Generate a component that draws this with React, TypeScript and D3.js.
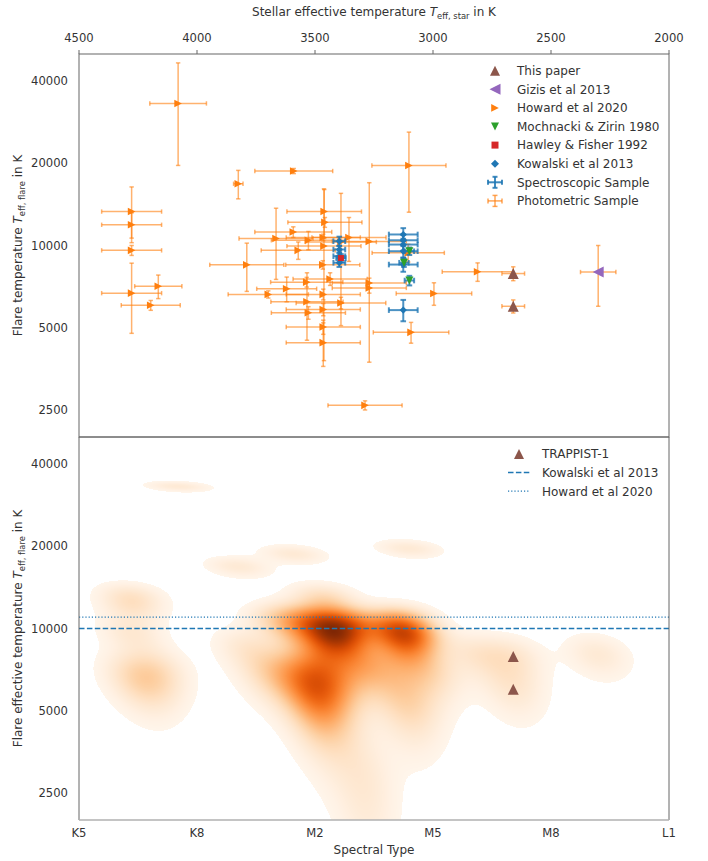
import React, { useMemo } from 'react';
import * as d3 from 'd3';

// ---- Photometric sample: Howard et al. 2020 (stellar Teff, flare T, 1-sigma errors, K)
const howardTeff = [4080, 3590, 3825, 4277, 4277, 4277, 4277, 4164, 4196, 3789, 3467, 3461, 3458, 3592, 3665, 3528, 3465, 3356, 3270, 3390, 3462, 3571, 3105, 3535, 3436, 3620, 3698, 3465, 3270, 3270, 3390, 3534, 3528, 3465, 3465, 3465, 3288, 3102, 2996, 3093, 2811];
const howardTeffErr = [120, 165, 20, 127, 127, 127, 127, 100, 125, 157, 157, 158, 157, 163, 157, 157, 157, 157, 157, 150, 157, 157, 153, 153, 157, 127, 170, 157, 157, 157, 190, 153, 157, 157, 157, 157, 157, 157, 160, 160, 150];
const howardTflare = [33000, 18700, 16800, 13300, 11900, 9600, 6700, 7100, 6050, 8500, 8500, 13300, 12150, 11200, 10600, 10450, 10700, 10700, 10350, 10300, 9950, 9600, 9400, 7350, 7550, 6950, 6630, 6630, 7300, 7000, 6170, 6230, 5680, 5840, 5040, 4420, 2610, 19580, 6680, 4820, 8020];
const howardTflareErr = [13400, 400, 2000, 3060, 1260, 400, 1920, 700, 250, 1700, 300, 2700, 500, 500, 3080, 800, 300, 1950, 6600, 5200, 6150, 700, 700, 300, 400, 720, 200, 300, 300, 300, 300, 1720, 300, 300, 300, 800, 100, 6350, 630, 420, 620];

// ---- Gizis et al 2013 (photometric)
const gizisTeff = [2300];
const gizisTeffErr = [75];
const gizisTflare = [8000];
const gizisTflareErr = [2000];

// ---- This paper: TRAPPIST-1 flares (photometric)
const thisTeff = [2660, 2660];
const thisTeffErr = [48, 48];
const thisTflare = [7900, 6000];
const thisTflareErr = [460, 330];

// ---- Spectroscopic sample: Kowalski et al 2013
const kowTeff = [3126, 3126, 3126, 3126, 3126, 3126, 3397, 3397, 3397, 3397];
const kowTeffErr = [61, 61, 61, 61, 61, 61, 25, 25, 25, 25];
const kowTflare = [10970, 10450, 10080, 9530, 8520, 5810, 10370, 9670, 9140, 8650];
const kowTflareErr = [600, 500, 500, 500, 500, 520, 400, 300, 300, 300];

// ---- Hawley & Fisher 1992
const hawleyTeff = [3390];
const hawleyTeffErr = [20];
const hawleyTflare = [9000];
const hawleyTflareErr = [300];

// ---- Mochnacki & Zirin 1980
const mochTeff = [3100, 3123, 3100];
const mochTeffErr = [20, 20, 20];
const mochTflare = [9530, 8650, 7450];
const mochTflareErr = [300, 300, 300];

// ---- axes
const starTicks = [4500, 4000, 3500, 3000, 2500, 2000];
const flareTicks = [2500, 5000, 10000, 20000, 40000];
const spectralTypes = ['K5', 'K8', 'M2', 'M5', 'M8', 'L1'];
const kowalskiMean = 10000;
const howardMean = 11000;

// KDE settings
const bwAdjust = 0.46;
const kdeThresh = 0.048;

const C = {
  blue: '#1f77b4', orange: '#ff7f0e', green: '#2ca02c', red: '#d62728', purple: '#9467bd', brown: '#8c564b',
};
const FONT = "'DejaVu Sans', sans-serif";
const TXT = '#333333';
const SPINE = '#666666';

type Pt = { teff: number; teffErr: number; t: number; tErr: number };
const zip = (a: number[], ae: number[], b: number[], be: number[]): Pt[] =>
  a.map((v, i) => ({ teff: v, teffErr: ae[i], t: b[i], tErr: be[i] }));

const howard = zip(howardTeff, howardTeffErr, howardTflare, howardTflareErr);
const gizis = zip(gizisTeff, gizisTeffErr, gizisTflare, gizisTflareErr);
const thisPaper = zip(thisTeff, thisTeffErr, thisTflare, thisTflareErr);
const kowalski = zip(kowTeff, kowTeffErr, kowTflare, kowTflareErr);
const hawley = zip(hawleyTeff, hawleyTeffErr, hawleyTflare, hawleyTflareErr);
const mochnacki = zip(mochTeff, mochTeffErr, mochTflare, mochTflareErr);
const photometric = [...howard, ...gizis, ...thisPaper];
const spectroscopic = [...kowalski, ...hawley, ...mochnacki];
const allFlares = [...photometric, ...spectroscopic];

// marker shapes centred on (0,0)
const triRight = (s: number) => `M${-s},${-s}L${s},0L${-s},${s}Z`;
const triLeft = (s: number) => `M${s},${-s}L${-s},0L${s},${s}Z`;
const triUp = (s: number) => `M0,${-s}L${s},${s}L${-s},${s}Z`;
const triDown = (s: number) => `M${-s},${-s}L${s},${-s}L0,${s}Z`;
const square = (s: number) => `M${-s},${-s}H${s}V${s}H${-s}Z`;
const diamond = (s: number) => `M0,${-s}L${s},0L0,${s}L${-s},0Z`;

// Gaussian KDE (Scott bandwidth, full covariance) rendered to a bitmap,
// coloured between the lowest iso-proportion level and the peak density.
function kdeBitmap(pts: Pt[], x: d3.ScaleLinear<number, number>, y: d3.ScaleLogarithmic<number, number>,
  x0: number, y0: number, w: number, h: number): string {
  const n = pts.length;
  const us = pts.map(p => p.teff), vs = pts.map(p => p.t);
  const mu = d3.mean(us) as number, mv = d3.mean(vs) as number;
  let suu = 0, svv = 0, suv = 0;
  for (let i = 0; i < n; i++) {
    suu += (us[i] - mu) ** 2; svv += (vs[i] - mv) ** 2; suv += (us[i] - mu) * (vs[i] - mv);
  }
  suu /= n - 1; svv /= n - 1; suv /= n - 1;
  const f = Math.pow(n, -1 / 3) * bwAdjust * bwAdjust;
  const kuu = suu * f, kvv = svv * f, kuv = suv * f;
  const det = kuu * kvv - kuv * kuv;
  const ia = kvv / det, ib = -kuv / det, ic = kuu / det;
  const dens = (u: number, v: number) => {
    let s = 0;
    for (let i = 0; i < n; i++) {
      const du = u - us[i], dv = v - vs[i];
      s += Math.exp(-0.5 * (ia * du * du + 2 * ib * du * dv + ic * dv * dv));
    }
    return s;
  };
  const su = Math.sqrt(kuu), sv = Math.sqrt(kvv);
  const G = 200;
  const uMin = (d3.min(us) as number) - 3 * su, uMax = (d3.max(us) as number) + 3 * su;
  const vMin = (d3.min(vs) as number) - 3 * sv, vMax = (d3.max(vs) as number) + 3 * sv;
  const vals = new Float64Array(G * G);
  for (let i = 0; i < G; i++) {
    const u = uMin + (uMax - uMin) * i / (G - 1);
    for (let j = 0; j < G; j++) {
      const v = vMin + (vMax - vMin) * j / (G - 1);
      vals[i * G + j] = dens(u, v);
    }
  }
  const sorted = Array.from(vals).sort((a, b) => b - a);
  const total = sorted.reduce((a, b) => a + b, 0);
  let cum = 0, d0 = sorted[sorted.length - 1];
  for (let k = 0; k < sorted.length; k++) {
    cum += sorted[k];
    if (cum / total >= 1 - kdeThresh) { d0 = sorted[k]; break; }
  }
  const dmax = sorted[0];
  const lut = d3.range(256).map(k => d3.rgb(d3.interpolateOranges(k / 255)));
  const canvas = document.createElement('canvas');
  canvas.width = w; canvas.height = h;
  const ctx = canvas.getContext('2d') as CanvasRenderingContext2D;
  const img = ctx.createImageData(w, h);
  for (let py = 0; py < h; py++) {
    const v = y.invert(y0 + py + 0.5);
    for (let px = 0; px < w; px++) {
      const u = x.invert(x0 + px + 0.5);
      const d = dens(u, v);
      if (d < d0) continue;
      const t = Math.min(1, (d - d0) / (dmax - d0));
      const c = lut[Math.round(t * 255)];
      const o = (py * w + px) * 4;
      img.data[o] = c.r; img.data[o + 1] = c.g; img.data[o + 2] = c.b; img.data[o + 3] = 255;
    }
  }
  ctx.putImageData(img, 0, 0);
  return canvas.toDataURL();
}

function ErrorBars({ pts, x, y, color, opacity, width, cap }: {
  pts: Pt[]; x: (v: number) => number; y: (v: number) => number; color: string; opacity: number; width: number; cap: number;
}) {
  return (
    <g stroke={color} strokeOpacity={opacity} strokeWidth={width} fill="none">
      {pts.map((p, i) => {
        const cx = x(p.teff), cy = y(p.t);
        const xa = x(p.teff + p.teffErr), xb = x(p.teff - p.teffErr);
        const ya = y(p.t + p.tErr), yb = y(Math.max(p.t - p.tErr, 1));
        return (
          <g key={i}>
            <line x1={xa} x2={xb} y1={cy} y2={cy} />
            <line x1={cx} x2={cx} y1={ya} y2={yb} />
            <line x1={xa} x2={xa} y1={cy - cap} y2={cy + cap} />
            <line x1={xb} x2={xb} y1={cy - cap} y2={cy + cap} />
            <line x1={cx - cap} x2={cx + cap} y1={ya} y2={ya} />
            <line x1={cx - cap} x2={cx + cap} y1={yb} y2={yb} />
          </g>
        );
      })}
    </g>
  );
}

function Markers({ pts, x, y, shape, color }: {
  pts: Pt[]; x: (v: number) => number; y: (v: number) => number; shape: string; color: string;
}) {
  return (
    <g fill={color}>
      {pts.map((p, i) => <path key={i} d={shape} transform={`translate(${x(p.teff)},${y(p.t)})`} />)}
    </g>
  );
}

function FlareLabel({ x, y, main }: { x: number; y: number; main: string }) {
  return (
    <text transform={`translate(${x},${y}) rotate(-90)`} textAnchor="middle" fontSize={12} fill={TXT} fontFamily={FONT}>
      {main}<tspan fontStyle="italic">T</tspan><tspan fontSize={8.4} dy={3}>eff, flare</tspan><tspan dy={-3}> in K</tspan>
    </text>
  );
}

export default function App() {
  const L = 79, R = 669, T0 = 54, MID = 437, B = 820;
  const x = d3.scaleLinear().domain([4500, 2000]).range([L, R]);
  const yTop = d3.scaleLog().domain([2000, 50000]).range([MID, T0]);
  const yBot = d3.scaleLog().domain([2000, 50000]).range([B, MID]);
  const spec = d3.scalePoint<string>().domain(spectralTypes).range([L, R]);

  const kde = useMemo(() => kdeBitmap(allFlares, x, yBot, L, MID, R - L, B - MID), []);

  const legendTop = [
    { label: 'This paper', kind: 'm', d: triUp(5), color: C.brown },
    { label: 'Gizis et al 2013', kind: 'm', d: triLeft(5.5), color: C.purple },
    { label: 'Howard et al 2020', kind: 'm', d: triRight(3.8), color: C.orange },
    { label: 'Mochnacki & Zirin 1980', kind: 'm', d: triDown(4), color: C.green },
    { label: 'Hawley & Fisher 1992', kind: 'm', d: square(3.5), color: C.red },
    { label: 'Kowalski et al 2013', kind: 'm', d: diamond(4), color: C.blue },
    { label: 'Spectroscopic Sample', kind: 'e', color: C.blue },
    { label: 'Photometric Sample', kind: 'e', color: C.orange },
  ];

  return (
    <svg width={708} height={861} style={{ display: 'block', position: 'absolute', left: 0, top: 0 }} fontFamily={FONT}>
      <rect width={708} height={861} fill="#ffffff" />
      <defs>
        <clipPath id="topClip"><rect x={L} y={T0} width={R - L} height={MID - T0} /></clipPath>
        <clipPath id="botClip"><rect x={L} y={MID} width={R - L} height={B - MID} /></clipPath>
      </defs>

      {/* top title + top axis */}
      <text x={(L + R) / 2} y={16} textAnchor="middle" fontSize={12} fill={TXT}>
        Stellar effective temperature <tspan fontStyle="italic">T</tspan><tspan fontSize={8.4} dy={3}>eff, star</tspan><tspan dy={-3}> in K</tspan>
      </text>
      {starTicks.map(t => (
        <g key={t}>
          <line x1={x(t)} x2={x(t)} y1={T0 - 4} y2={T0} stroke={SPINE} />
          <text x={x(t)} y={42} textAnchor="middle" fontSize={11.6} fill={TXT}>{t}</text>
        </g>
      ))}

      {/* ---------- top panel: literature flare temperatures ---------- */}
      <g clipPath="url(#topClip)">
        <ErrorBars pts={photometric} x={x} y={yTop} color={C.orange} opacity={0.6} width={1.5} cap={2.2} />
        <Markers pts={howard} x={x} y={yTop} shape={triRight(3.8)} color={C.orange} />
        <Markers pts={gizis} x={x} y={yTop} shape={triLeft(5.5)} color={C.purple} />
        <Markers pts={thisPaper} x={x} y={yTop} shape={triUp(5.5)} color={C.brown} />
        <ErrorBars pts={spectroscopic} x={x} y={yTop} color={C.blue} opacity={0.8} width={2} cap={2.8} />
        <Markers pts={kowalski} x={x} y={yTop} shape={diamond(3.6)} color={C.blue} />
        <Markers pts={hawley} x={x} y={yTop} shape={square(3)} color={C.red} />
        <Markers pts={mochnacki} x={x} y={yTop} shape={triDown(4)} color={C.green} />
      </g>
      {flareTicks.map(t => (
        <text key={t} x={68} y={yTop(t) + 4} textAnchor="end" fontSize={11.6} fill={TXT}>{t}</text>
      ))}
      <FlareLabel x={22} y={(T0 + MID) / 2} main="Flare temperature " />
      {legendTop.map((e, i) => {
        const cy = 70.7 + i * 18.6, cx = 495;
        return (
          <g key={e.label}>
            {e.kind === 'm' ? (
              <path d={e.d} transform={`translate(${cx},${cy})`} fill={e.color} />
            ) : (
              <g stroke={e.color} strokeWidth={e.color === C.blue ? 2 : 1.5} strokeOpacity={e.color === C.blue ? 0.85 : 0.7}>
                <line x1={cx - 7} x2={cx + 7} y1={cy} y2={cy} />
                <line x1={cx} x2={cx} y1={cy - 5.5} y2={cy + 5.5} />
                <line x1={cx - 7} x2={cx - 7} y1={cy - 2.5} y2={cy + 2.5} />
                <line x1={cx + 7} x2={cx + 7} y1={cy - 2.5} y2={cy + 2.5} />
                <line x1={cx - 2.5} x2={cx + 2.5} y1={cy - 5.5} y2={cy - 5.5} />
                <line x1={cx - 2.5} x2={cx + 2.5} y1={cy + 5.5} y2={cy + 5.5} />
              </g>
            )}
            <text x={517} y={cy + 4.3} fontSize={12} fill={TXT}>{e.label}</text>
          </g>
        );
      })}
      <rect x={L} y={T0} width={R - L} height={MID - T0} fill="none" stroke={SPINE} strokeWidth={1} />

      {/* ---------- bottom panel: density of flare temperatures ---------- */}
      <g clipPath="url(#botClip)">
        <image href={kde} x={L} y={MID} width={R - L} height={B - MID} preserveAspectRatio="none" />
        <line x1={L} x2={R} y1={yBot(kowalskiMean)} y2={yBot(kowalskiMean)} stroke={C.blue} strokeWidth={1.5} strokeDasharray="5.5,2.4" />
        <line x1={L} x2={R} y1={yBot(howardMean)} y2={yBot(howardMean)} stroke={C.blue} strokeWidth={1.2} strokeDasharray="1.2,2" />
        <Markers pts={thisPaper} x={x} y={yBot} shape={triUp(5.5)} color={C.brown} />
      </g>
      {flareTicks.map(t => (
        <text key={t} x={68} y={yBot(t) + 4} textAnchor="end" fontSize={11.6} fill={TXT}>{t}</text>
      ))}
      <FlareLabel x={22} y={(MID + B) / 2} main="Flare effective temperature " />
      {spectralTypes.map(s => (
        <text key={s} x={spec(s)} y={837} textAnchor="middle" fontSize={11.6} fill={TXT}>{s}</text>
      ))}
      <text x={(L + R) / 2} y={854} textAnchor="middle" fontSize={12} fill={TXT}>Spectral Type</text>

      {/* bottom legend */}
      <g>
        <path d={triUp(5)} transform="translate(519,454)" fill={C.brown} />
        <text x={542} y={458.3} fontSize={12} fill={TXT}>TRAPPIST-1</text>
        <line x1={508} x2={530} y1={472.6} y2={472.6} stroke={C.blue} strokeWidth={1.5} strokeDasharray="5.5,2.4" />
        <text x={542} y={476.9} fontSize={12} fill={TXT}>Kowalski et al 2013</text>
        <line x1={508} x2={530} y1={491.2} y2={491.2} stroke={C.blue} strokeWidth={1.2} strokeDasharray="1.2,2" />
        <text x={542} y={495.5} fontSize={12} fill={TXT}>Howard et al 2020</text>
      </g>

      <line x1={L} x2={L} y1={MID} y2={B} stroke={SPINE} />
      <line x1={R} x2={R} y1={MID} y2={B} stroke={SPINE} />
      <line x1={L} x2={R} y1={MID} y2={MID} stroke={SPINE} />
      <line x1={L} x2={R} y1={B} y2={B} stroke="#b0b0b0" strokeWidth={1.5} />
    </svg>
  );
}
